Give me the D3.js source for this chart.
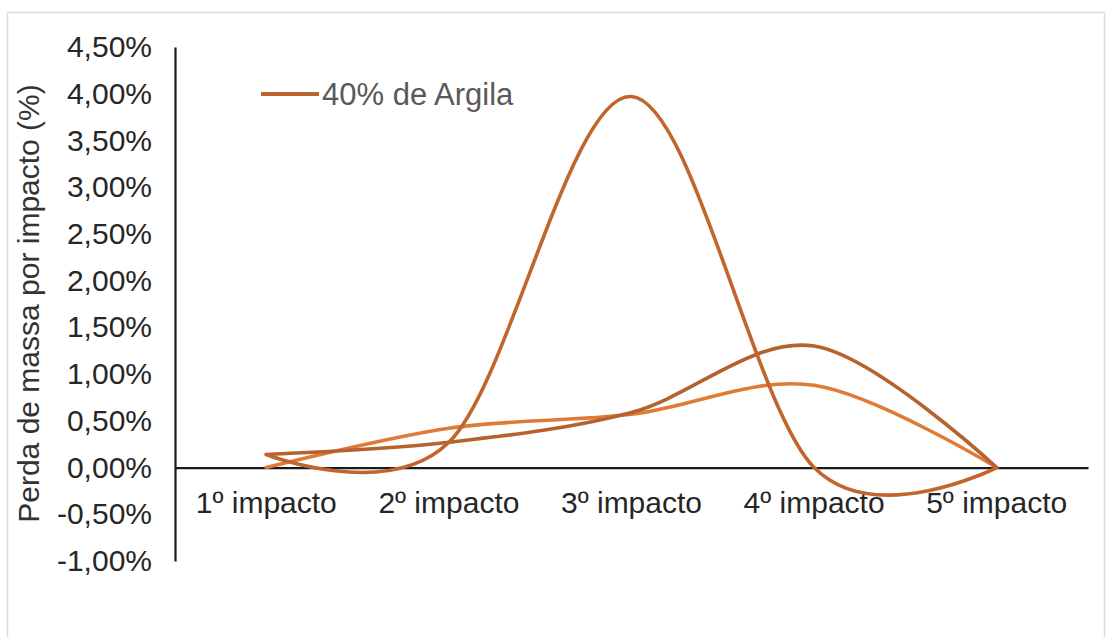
<!DOCTYPE html>
<html>
<head>
<meta charset="utf-8">
<script src="https://cdn.jsdelivr.net/npm/d3@7"></script>
<style>
  html, body { margin: 0; padding: 0; background: #ffffff; }
  svg { display: block; font-family: "Liberation Sans", Arial, sans-serif; }
</style>
</head>
<body>
<svg id="chart" width="1110" height="637"></svg>
<script>
// Perda de massa por impacto, em %
const categories = ["1º impacto", "2º impacto", "3º impacto", "4º impacto", "5º impacto"];
const serieA = [0.14, 0.27, 3.97, 0.00, 0.00];
const serieB = [0.14, 0.27, 0.59, 1.30, 0.00];
const serieC = [0.00, 0.42, 0.57, 0.88, 0.00];
const yTicks = [-1, -0.5, 0, 0.5, 1, 1.5, 2, 2.5, 3, 3.5, 4, 4.5];
const legendLabel = "40% de Argila";
const yTitle = "Perda de massa por impacto (%)";

const series = [
  { values: serieC, color: "#df7b36" },
  { values: serieB, color: "#b5622d" },
  { values: serieA, color: "#c1662b" }
];

const svg = d3.select("#chart");

// moldura
svg.append("rect")
  .attr("x", 7.5).attr("y", 12.5)
  .attr("width", 1097).attr("height", 640)
  .attr("fill", "none").attr("stroke", "#dcdcdc").attr("stroke-width", 1.5);

const x = d3.scaleBand().domain(categories).range([175, 1088]).paddingInner(0).paddingOuter(0);
const y = d3.scaleLinear().domain([-1, 4.5]).range([561, 47]);

const ptBR = d3.formatLocale({ decimal: ",", thousands: ".", grouping: [3], currency: ["R$", ""], minus: "-" });
const fmt = ptBR.format(".2f");

// eixo Y
const yAxis = svg.append("g")
  .attr("transform", "translate(175,0)")
  .call(d3.axisLeft(y).tickValues(yTicks).tickSize(0).tickPadding(23).tickFormat(d => fmt(d) + "%"));
yAxis.select(".domain").attr("stroke", "#1a1a1a").attr("stroke-width", 2.2);
yAxis.selectAll("text")
  .attr("font-size", 30).attr("fill", "#262626")
  .attr("font-family", "'Liberation Sans', Arial, sans-serif");

// eixo X na linha do zero
const xAxis = svg.append("g")
  .attr("transform", `translate(0,${y(0)})`)
  .call(d3.axisBottom(x).tickSize(0).tickPadding(24));
xAxis.select(".domain").attr("stroke", "#1a1a1a").attr("stroke-width", 2.2);
xAxis.selectAll("text")
  .attr("font-size", 30).attr("fill", "#262626")
  .attr("font-family", "'Liberation Sans', Arial, sans-serif");

// título do eixo Y
svg.append("text")
  .attr("transform", `translate(39,${(80 + 527) / 2}) rotate(-90)`)
  .attr("text-anchor", "middle")
  .attr("font-size", 30)
  .attr("fill", "#333333")
  .text(yTitle);

// linhas suavizadas
const line = d3.line()
  .x((d, i) => x(categories[i]) + x.bandwidth() / 2)
  .y(d => y(d))
  .curve(d3.curveCatmullRom.alpha(0));

svg.append("g").selectAll("path")
  .data(series)
  .join("path")
  .attr("d", s => line(s.values))
  .attr("fill", "none")
  .attr("stroke", s => s.color)
  .attr("stroke-width", 3.6)
  .attr("stroke-linecap", "round");

// legenda
const legend = svg.append("g").attr("transform", "translate(261,94)");
legend.append("line")
  .attr("x1", 0).attr("x2", 58).attr("y1", 0).attr("y2", 0)
  .attr("stroke", "#b8652f").attr("stroke-width", 4);
legend.append("text")
  .attr("x", 61).attr("y", 11)
  .attr("font-size", 31)
  .attr("fill", "#595959")
  .text(legendLabel);
</script>
</body>
</html>
